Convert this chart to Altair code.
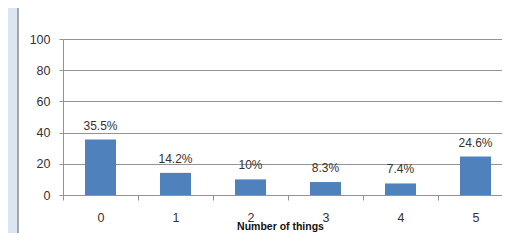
import altair as alt
import pandas as pd

categories = ["0", "1", "2", "3", "4", "5"]
values = [35.5, 14.2, 10.0, 8.3, 7.4, 24.6]
labels = ["35.5%", "14.2%", "10%", "8.3%", "7.4%", "24.6%"]
y_ticks = [0, 20, 40, 60, 80, 100]

df = pd.DataFrame({"cat": categories, "val": values, "lab": labels})
deco = pd.DataFrame({"k": [0]})

FONT = "Liberation Sans"
GRID = "#939393"

x = alt.X(
    "cat:N",
    sort=categories,
    scale=alt.Scale(range=[0, 450], paddingInner=0, paddingOuter=0),
    axis=alt.Axis(
        title="Number of things",
        labelAngle=0,
        tickBand="extent",
        tickSize=5,
        tickColor=GRID,
        domainColor=GRID,
        labelPadding=11,
        labelFontSize=12.5,
        labelColor="#333333",
        labelFont=FONT,
        titleFont=FONT,
        titleFontSize=10.5,
        titleFontWeight="bold",
        titleColor="#111111",
        titleX=217,
        titleY=34.5,
        titleBaseline="alphabetic",
        grid=False,
    ),
)
y = alt.Y(
    "val:Q",
    scale=alt.Scale(domain=[0, 100], nice=False),
    axis=alt.Axis(
        title=None,
        values=y_ticks,
        tickSize=4,
        tickColor=GRID,
        domainColor=GRID,
        gridColor=GRID,
        labelPadding=9,
        labelFontSize=12.5,
        labelColor="#333333",
        labelFont=FONT,
    ),
)

strip = alt.Chart(deco).mark_rect(color="#dce6f2").encode(
    x=alt.value(-55), x2=alt.value(-45), y=alt.value(-40), y2=alt.value(210)
)
left_border = alt.Chart(deco).mark_rule(color="#8c8c8c", strokeWidth=1.5).encode(
    x=alt.value(-45), y=alt.value(-40), y2=alt.value(210)
)

bars = alt.Chart(df).mark_bar(color="#4f81bd", width=31).encode(x=x, y=y)
text = alt.Chart(df).mark_text(
    dy=-14, baseline="middle", fontSize=12, font=FONT, color="#333333"
).encode(x=x, y=y, text="lab:N")

chart = (
    alt.layer(strip, left_border, bars, text)
    .properties(
        width=439,
        height=156,
        autosize=alt.AutoSizeParams(type="none"),
        padding={"left": 55, "top": 31, "right": 0, "bottom": 38},
        background="white",
    )
    .configure_view(stroke=None)
)

chart.save("out.html", embed_options={"renderer": "svg", "actions": False})
